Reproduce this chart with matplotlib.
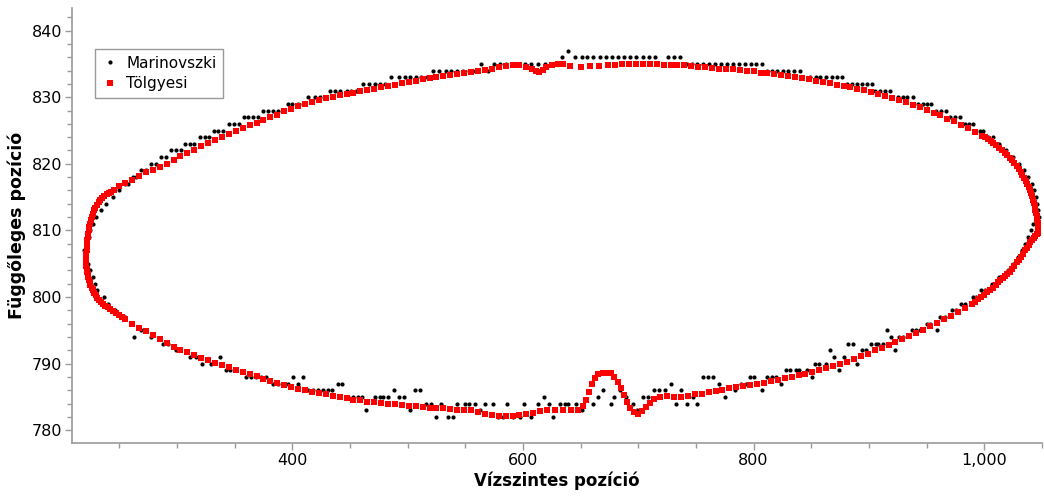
import matplotlib.pyplot as plt
from matplotlib.ticker import MultipleLocator, FuncFormatter

# Tölgyesi: upper and lower arcs (x, y)
red_top = [
    (221.2, 805.5), (221.3, 806.0), (221.4, 806.5), (221.6, 807.0), (221.8, 807.5), (222.0, 808.0),
    (222.3, 808.5), (222.6, 809.0), (223.0, 809.5), (223.4, 810.0), (223.9, 810.5), (224.5, 811.0),
    (225.2, 811.5), (226.0, 812.0), (227.0, 812.5), (228.0, 813.0), (229.2, 813.4), (230.5, 813.8),
    (232.0, 814.2), (233.5, 814.5), (235.2, 814.8), (237.0, 815.1), (239.0, 815.4), (241.0, 815.6),
    (243.0, 815.8), (245.0, 816.0), (250.0, 816.6), (255.0, 817.1), (261.0, 817.6), (267.0, 818.2),
    (273.0, 818.7), (279.0, 819.1), (285.0, 819.5), (291.0, 820.0), (297.0, 820.6), (303.0, 821.1),
    (309.0, 821.6), (315.0, 822.0), (321.0, 822.6), (327.0, 823.1), (333.0, 823.6), (339.0, 824.0),
    (345.0, 824.5), (351.0, 825.0), (357.0, 825.4), (363.0, 825.8), (369.0, 826.2), (375.0, 826.6),
    (381.0, 827.0), (387.0, 827.4), (393.0, 827.9), (399.0, 828.3), (405.0, 828.7), (411.0, 829.0),
    (417.0, 829.3), (423.0, 829.6), (429.0, 829.9), (435.0, 830.1), (441.0, 830.3), (447.0, 830.5),
    (453.0, 830.7), (459.0, 830.9), (465.0, 831.1), (471.0, 831.3), (477.0, 831.5), (483.0, 831.7),
    (489.0, 831.9), (495.0, 832.1), (501.0, 832.3), (507.0, 832.5), (513.0, 832.7), (519.0, 832.9),
    (525.0, 833.0), (531.0, 833.2), (537.0, 833.3), (543.0, 833.5), (549.0, 833.6), (555.0, 833.8),
    (561.0, 834.0), (567.0, 834.1), (573.0, 834.2), (579.0, 834.5), (585.0, 834.7), (591.0, 834.8),
    (597.0, 834.8), (603.0, 834.6), (608.0, 834.2), (611.0, 833.9), (614.0, 833.8), (617.0, 834.1),
    (620.0, 834.5), (625.0, 834.9), (630.0, 835.0), (635.0, 835.0), (641.0, 834.7), (650.0, 834.6),
    (658.0, 834.7), (666.0, 834.7), (674.0, 834.9), (680.0, 834.9), (686.0, 835.0), (692.0, 835.0),
    (698.0, 835.0), (704.0, 835.0), (710.0, 835.0), (716.0, 835.0), (722.0, 834.9), (728.0, 834.9),
    (734.0, 834.8), (740.0, 834.8), (746.0, 834.7), (752.0, 834.6), (758.0, 834.5), (764.0, 834.4),
    (770.0, 834.3), (776.0, 834.3), (782.0, 834.2), (788.0, 834.1), (794.0, 834.0), (800.0, 833.9),
    (806.0, 833.7), (812.0, 833.6), (818.0, 833.5), (824.0, 833.3), (830.0, 833.2), (836.0, 833.1),
    (842.0, 832.9), (848.0, 832.7), (854.0, 832.5), (860.0, 832.3), (866.0, 832.1), (872.0, 831.9),
    (878.0, 831.7), (884.0, 831.5), (890.0, 831.3), (896.0, 831.1), (902.0, 830.8), (908.0, 830.5),
    (914.0, 830.2), (920.0, 829.9), (926.0, 829.6), (932.0, 829.3), (938.0, 828.9), (944.0, 828.5),
    (950.0, 828.1), (956.0, 827.7), (962.0, 827.3), (968.0, 826.8), (974.0, 826.4), (980.0, 825.9),
    (986.0, 825.4), (992.0, 824.8), (998.0, 824.2), (1000.5, 824.0), (1003.0, 823.7), (1005.5, 823.4),
    (1008.0, 823.1), (1010.5, 822.8), (1013.0, 822.4), (1015.5, 822.0), (1018.0, 821.6), (1020.0, 821.3),
    (1022.0, 820.9), (1024.0, 820.5), (1026.0, 820.1), (1028.0, 819.7), (1030.0, 819.2), (1031.5, 818.8),
    (1033.0, 818.3), (1034.5, 817.9), (1036.0, 817.4), (1037.3, 816.9), (1038.5, 816.5), (1039.5, 816.0),
    (1040.5, 815.6), (1041.4, 815.1), (1042.3, 814.6), (1043.1, 814.1), (1043.8, 813.6), (1044.4, 813.1),
    (1045.0, 812.6), (1045.5, 812.1), (1046.0, 811.6), (1046.3, 811.1), (1046.6, 810.6), (1046.9, 810.1),
    (1047.0, 809.6),
]
red_bottom = [
    (221.3, 805.0), (221.5, 804.6), (221.8, 804.2), (222.2, 803.8), (222.6, 803.4), (223.1, 803.0),
    (223.6, 802.6), (224.3, 802.2), (225.0, 801.8), (226.0, 801.4), (227.0, 801.0), (228.2, 800.6),
    (229.5, 800.3), (231.0, 799.9), (232.5, 799.6), (234.2, 799.3), (236.0, 799.0), (238.0, 798.7),
    (240.0, 798.5), (242.2, 798.2), (244.5, 797.9), (247.0, 797.6), (249.5, 797.3), (252.2, 797.0),
    (255.0, 796.7), (261.0, 796.0), (267.0, 795.4), (273.0, 794.9), (279.0, 794.3), (285.0, 793.7),
    (291.0, 793.1), (297.0, 792.5), (303.0, 792.1), (309.0, 791.7), (315.0, 791.3), (321.0, 790.9),
    (327.0, 790.5), (333.0, 790.1), (339.0, 789.8), (345.0, 789.5), (351.0, 789.1), (357.0, 788.8),
    (363.0, 788.4), (369.0, 788.1), (375.0, 787.7), (381.0, 787.4), (387.0, 787.1), (393.0, 786.8),
    (399.0, 786.5), (405.0, 786.2), (411.0, 786.0), (417.0, 785.8), (423.0, 785.6), (429.0, 785.4),
    (435.0, 785.2), (441.0, 785.0), (447.0, 784.8), (453.0, 784.6), (459.0, 784.5), (465.0, 784.3),
    (471.0, 784.2), (477.0, 784.1), (483.0, 784.0), (489.0, 783.9), (495.0, 783.8), (501.0, 783.7),
    (507.0, 783.6), (513.0, 783.5), (519.0, 783.4), (525.0, 783.3), (531.0, 783.3), (537.0, 783.2),
    (543.0, 783.1), (549.0, 783.1), (555.0, 783.0), (561.0, 782.8), (567.0, 782.5), (573.0, 782.3),
    (579.0, 782.2), (585.0, 782.2), (591.0, 782.2), (597.0, 782.3), (603.0, 782.4), (609.0, 782.6),
    (615.0, 782.9), (621.0, 783.0), (628.0, 783.0), (635.0, 783.0), (642.0, 783.0), (648.0, 783.1),
    (652.0, 783.6), (655.0, 784.6), (657.5, 785.8), (660.0, 787.0), (662.5, 787.9), (665.5, 788.4),
    (669.0, 788.6), (672.5, 788.6), (676.0, 788.6), (679.0, 788.0), (682.0, 787.2), (685.0, 786.3),
    (688.0, 785.3), (690.5, 784.3), (693.0, 783.4), (696.0, 782.7), (699.5, 782.5), (703.0, 782.9),
    (706.5, 783.5), (710.0, 784.1), (714.0, 784.7), (719.0, 785.0), (725.0, 785.1), (731.0, 785.0),
    (737.0, 785.0), (743.0, 785.2), (749.0, 785.4), (755.0, 785.5), (761.0, 785.7), (767.0, 785.9),
    (773.0, 786.1), (779.0, 786.3), (785.0, 786.5), (791.0, 786.6), (797.0, 786.8), (803.0, 787.0),
    (809.0, 787.1), (815.0, 787.4), (821.0, 787.6), (827.0, 787.8), (833.0, 788.0), (839.0, 788.3),
    (845.0, 788.5), (851.0, 788.8), (857.0, 789.0), (863.0, 789.3), (869.0, 789.6), (875.0, 790.0),
    (881.0, 790.3), (887.0, 790.7), (893.0, 791.1), (899.0, 791.5), (905.0, 792.0), (911.0, 792.4),
    (917.0, 792.8), (923.0, 793.2), (929.0, 793.7), (935.0, 794.2), (941.0, 794.6), (947.0, 795.1),
    (953.0, 795.6), (959.0, 796.1), (965.0, 796.7), (971.0, 797.2), (977.0, 797.8), (983.0, 798.3),
    (989.0, 799.0), (992.0, 799.3), (995.0, 799.7), (997.5, 800.0), (1000.0, 800.3), (1002.5, 800.7),
    (1005.0, 801.0), (1007.5, 801.4), (1010.0, 801.8), (1012.0, 802.2), (1014.0, 802.5), (1016.0, 802.9),
    (1018.0, 803.2), (1020.0, 803.5), (1022.0, 803.8), (1024.0, 804.2), (1026.0, 804.7), (1028.0, 805.2),
    (1030.0, 805.6), (1031.8, 806.0), (1033.5, 806.5), (1035.2, 807.0), (1037.0, 807.4), (1038.5, 807.8),
    (1040.0, 808.2), (1041.5, 808.6), (1043.0, 808.9), (1044.3, 809.2), (1045.5, 809.4),
]

# Marinovszki: upper and lower arcs (x, y)
black_top = [
    (219.8, 807), (222.0, 808), (223.5, 809), (225.0, 810), (227.5, 811), (230.0, 812), (234.3, 813),
    (238.6, 814), (244.3, 815), (250.0, 816), (254.5, 817), (257.4, 817), (261.7, 818), (264.6, 818),
    (269.0, 819), (273.3, 819), (277.7, 820), (282.0, 820), (286.3, 821), (290.7, 821), (295.0, 822),
    (299.4, 822), (303.7, 822), (307.0, 823), (311.0, 823), (315.0, 823), (320.0, 824), (324.0, 824),
    (328.0, 824), (332.0, 825), (336.0, 825), (340.0, 825), (345.0, 826), (349.5, 826), (354.0, 826),
    (358.0, 827), (362.0, 827), (366.0, 827), (370.0, 827), (374.4, 828), (379.0, 828), (383.0, 828),
    (387.4, 828), (392.0, 828), (396.0, 829), (400.0, 829), (404.6, 829), (409.0, 829), (413.5, 830),
    (419.5, 830), (424.0, 830), (428.5, 830), (432.6, 831), (437.0, 831), (441.0, 831), (447.0, 831),
    (451.0, 831), (455.5, 831), (461.3, 832), (466.5, 832), (471.4, 832), (476.4, 832), (480.0, 832),
    (486.0, 833), (492.5, 833), (497.4, 833), (501.8, 833), (507.0, 833), (512.0, 833), (516.8, 833),
    (522.0, 834), (527.2, 834), (533.0, 834), (538.0, 834), (542.8, 834), (548.0, 834), (553.2, 834),
    (558.2, 834), (564.0, 835), (569.7, 834), (574.7, 835), (580.5, 835), (585.7, 835), (591.4, 835),
    (596.6, 835), (601.6, 835), (606.8, 835), (613.1, 835), (618.9, 835), (624.7, 835), (629.0, 835),
    (634.0, 836), (639.0, 837), (645.0, 836), (650.8, 836), (655.6, 836), (660.8, 836), (666.6, 836),
    (671.8, 836), (676.8, 836), (682.5, 836), (687.5, 836), (692.7, 836), (697.9, 836), (704.2, 836),
    (709.4, 836), (714.4, 836), (726.0, 836), (731.0, 836), (736.0, 836), (741.9, 835), (746.2, 835),
    (751.0, 835), (756.3, 835), (761.5, 835), (766.4, 835), (771.4, 835), (776.6, 835), (782.3, 835),
    (787.5, 835), (792.5, 835), (797.4, 835), (802.0, 835), (807.0, 835), (811.3, 834), (815.6, 834),
    (820.5, 834), (825.2, 834), (830.0, 834), (835.0, 834), (840.0, 834), (848.9, 833), (854.0, 833),
    (858.0, 833), (862.7, 833), (867.7, 833), (872.0, 833), (876.4, 833), (880.7, 832), (885.0, 832),
    (889.4, 832), (893.7, 832), (898.0, 832), (902.4, 832), (905.3, 831), (909.6, 831), (914.0, 831),
    (918.3, 831), (925.5, 830), (929.8, 830), (932.7, 830), (938.5, 830), (942.8, 829), (946.6, 829),
    (950.0, 829), (953.6, 829), (958.2, 828), (962.2, 828), (966.8, 828), (970.5, 827), (974.7, 827),
    (979.0, 827), (983.3, 826), (987.0, 826), (990.5, 826), (996.4, 825), (999.2, 825), (1003.5, 824),
    (1007.3, 824), (1012.7, 823), (1019.0, 822), (1025.2, 821), (1030.4, 820), (1034.8, 819),
    (1038.3, 818), (1041.2, 817), (1043.5, 816), (1045.0, 815), (1046.0, 814), (1046.8, 813),
    (1047.2, 812),
]
black_bottom = [
    (221.5, 806), (222.5, 805), (224.5, 804), (227.0, 803), (229.0, 802), (231.0, 801), (237.0, 800),
    (240.6, 799), (246.0, 798), (254.5, 797), (260.0, 796), (263.0, 794), (269.0, 795), (277.7, 794),
    (287.5, 793), (292.0, 793), (299.0, 792), (303.0, 792), (311.0, 791), (316.7, 791), (322.0, 790),
    (329.7, 790), (337.0, 791), (342.7, 789), (346.0, 789), (351.0, 789), (360.0, 788), (364.4, 788),
    (368.8, 788), (373.0, 788), (377.4, 788), (383.0, 787), (387.4, 787), (391.7, 787), (396.0, 787),
    (400.5, 788), (405.0, 787), (409.0, 788), (413.5, 786), (418.0, 786), (422.4, 786), (426.7, 786),
    (431.0, 786), (434.8, 786), (439.6, 787), (443.4, 787), (448.0, 785), (452.6, 785), (457.0, 785),
    (460.7, 785), (464.2, 783), (471.4, 785), (475.7, 785), (478.6, 785), (483.0, 785), (488.2, 786),
    (492.5, 785), (496.6, 785), (501.8, 783), (506.0, 786), (511.0, 786), (516.0, 784), (520.6, 784),
    (525.0, 782), (529.0, 784), (535.0, 782), (539.4, 782), (542.8, 784), (549.5, 784), (553.2, 784),
    (558.2, 784), (563.0, 783), (566.9, 784), (574.0, 784), (578.4, 782), (582.7, 782), (586.5, 784),
    (591.4, 782), (597.2, 782), (600.7, 784), (606.8, 782), (613.0, 784), (618.0, 785), (622.4, 784),
    (626.0, 782), (632.0, 784), (636.3, 784), (639.0, 784), (646.4, 784), (650.8, 783), (660.8, 784),
    (665.0, 785), (669.5, 786), (676.2, 784), (679.0, 785), (684.0, 786), (689.2, 785), (695.0, 784),
    (699.0, 783), (704.2, 785), (708.0, 785), (713.5, 786), (718.0, 786), (723.0, 786), (728.0, 787),
    (732.6, 784), (736.7, 786), (741.9, 784), (747.6, 785), (751.0, 784), (756.3, 788), (760.6, 788),
    (764.4, 788), (770.0, 787), (775.0, 785), (783.8, 786), (788.7, 787), (793.3, 787), (796.8, 788),
    (800.5, 788), (807.0, 786), (811.8, 788), (815.6, 788), (819.4, 788), (823.7, 787), (828.0, 789),
    (831.5, 789), (836.7, 789), (839.6, 789), (846.0, 789), (850.3, 788), (853.2, 790), (857.0, 790),
    (862.7, 790), (866.2, 792), (870.0, 791), (874.0, 789), (878.6, 791), (882.1, 793), (886.0, 793),
    (890.0, 790), (894.2, 792), (897.5, 792), (901.5, 793), (905.9, 793), (908.1, 793), (912.0, 793),
    (916.0, 795), (918.9, 794), (922.6, 792), (926.3, 794), (929.3, 794), (937.0, 795), (940.8, 795),
    (944.3, 795), (950.1, 796), (953.0, 796), (958.8, 795), (961.7, 797), (966.0, 797), (971.8, 798),
    (975.5, 798), (979.9, 799), (983.3, 799), (990.0, 800), (992.9, 800), (997.2, 801), (1000.6, 801),
    (1006.5, 802), (1009.4, 802), (1013.1, 803), (1016.6, 803), (1020.5, 804), (1025.0, 805),
    (1029.0, 806), (1032.5, 807), (1035.5, 808), (1038.0, 809), (1040.5, 810), (1042.5, 811),
]

black_pts = black_top + black_bottom
red_pts = red_top + red_bottom
bx = [p[0] for p in black_pts]
by = [p[1] for p in black_pts]
rx = [p[0] for p in red_pts]
ry = [p[1] for p in red_pts]

axis_grey = "#9a9a9a"

fig = plt.figure(figsize=(10.44, 4.96), dpi=100)
ax = fig.add_axes([0.069, 0.107, 0.929, 0.877])

ax.plot(bx, by, linestyle="none", marker="o", markersize=3.0, color="black",
        markeredgewidth=0, label="Marinovszki")
ax.plot(rx, ry, linestyle="none", marker="s", markersize=4.0, color="#ff0000",
        markeredgewidth=0, label="Tölgyesi")

ax.set_xlim(209, 1050)
ax.set_ylim(778.1, 843.4)

ax.xaxis.set_major_locator(MultipleLocator(200))
ax.xaxis.set_minor_locator(MultipleLocator(50))
ax.yaxis.set_major_locator(MultipleLocator(10))
ax.yaxis.set_minor_locator(MultipleLocator(2))
ax.xaxis.set_major_formatter(FuncFormatter(lambda v, pos: f"{v:,.0f}"))

for side in ("top", "right"):
    ax.spines[side].set_visible(False)
for side in ("left", "bottom"):
    ax.spines[side].set_color(axis_grey)
    ax.spines[side].set_linewidth(1.2)

ax.tick_params(which="major", length=5, width=1, color=axis_grey, labelsize=11.5,
               labelcolor="black", pad=2)
ax.tick_params(which="minor", length=3.4, width=1, color=axis_grey)

ax.set_xlabel("Vízszintes pozíció", fontsize=12, fontweight="bold", labelpad=3)
ax.set_ylabel("Függőleges pozíció", fontsize=12.5, fontweight="bold", labelpad=4)

leg = ax.legend(loc="upper left", bbox_to_anchor=(0.0237, 0.906), borderaxespad=0,
                fontsize=11, frameon=True, fancybox=False, handlelength=1.0,
                handletextpad=0.6, borderpad=0.45, labelspacing=0.35, markerscale=1.0)
leg.get_frame().set_edgecolor("#808080")
leg.get_frame().set_linewidth(1.0)

fig.savefig("out.png", dpi=100)
